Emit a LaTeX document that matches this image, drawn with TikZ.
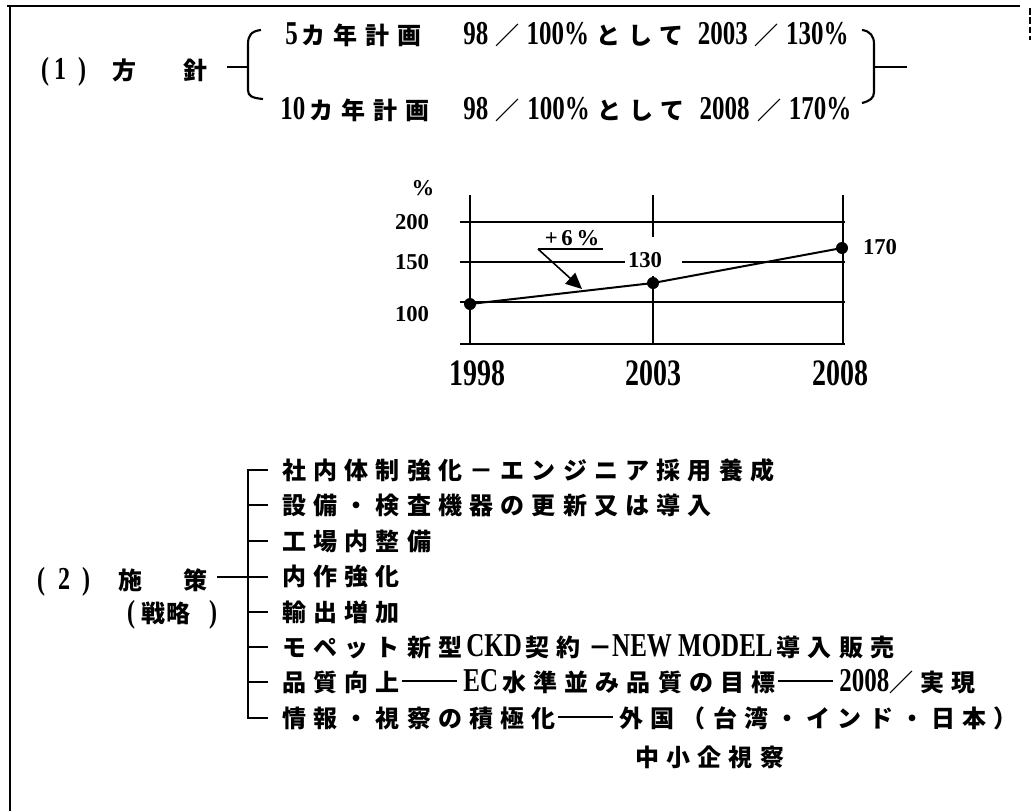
\documentclass[tikz,border=0pt]{standalone}
\usepackage{fontspec}
\usepackage{graphicx}
\setmainfont{Liberation Serif}
\newfontfamily\jp{Noto Sans CJK JP}[LetterSpace=30]
\newfontfamily\jpt{Noto Sans CJK JP}[LetterSpace=33]
\newfontfamily\latc{Liberation Serif}[FakeStretch=0.75]
\usetikzlibrary{arrows.meta}
\newcommand\latA[1]{{\latc\fontsize{25}{26}\selectfont #1}}
\newcommand\latB[1]{{\latc\fontsize{25}{26}\selectfont #1}}
\newcommand\jdash{\hspace{0.1em}\rule[0.36em]{2.3em}{0.08em}\hspace{0.25em}}
\tikzset{
  jtxt/.style={inner sep=0pt, anchor=base west, font=\jp\bfseries\fontsize{18}{20}\selectfont},
  jtop/.style={inner sep=0pt, anchor=base west, font=\jpt\bfseries\fontsize{18}{20}\selectfont},
  jch/.style={inner sep=0pt, anchor=base, font=\jp\bfseries\fontsize{18}{20}\selectfont},
  lch/.style={inner sep=0pt, anchor=base, font=\latc\bfseries\fontsize{24}{24}\selectfont},
  chlab/.style={inner sep=0pt, font=\bfseries\fontsize{17}{17}\selectfont},
  yearlab/.style={inner sep=0pt, font=\latc\bfseries\fontsize{28}{28}\selectfont},
  frame/.style={line width=2.2pt},
  brk/.style={line width=1.6pt},
  tree/.style={line width=1.8pt},
  stub/.style={line width=1.5pt},
  gridl/.style={line width=1.2pt},
  axisl/.style={line width=2.2pt},
  dataline/.style={line width=1.5pt},
  dot/.style={circle, fill=black, inner sep=0pt, minimum size=9pt},
}
\begin{document}
\begin{tikzpicture}[x=0.75pt,y=-0.75pt]
\useasboundingbox (0,0) rectangle (1032,811);
\fill[white] (0,0) rectangle (1032,811);
% frame
\draw[frame] (7,6) -- (1020,6);
\draw[frame] (10,6) -- (10,811);
\draw[line width=1.2pt, dash pattern=on 5pt off 2pt] (1030,8) -- (1030,40);

% ---- (1) policy
\node[lch] (p1a) at (45,79) {(};
\node[lch] (p1b) at (60,79) {1};
\node[lch] (p1c) at (82,79) {)};
\node[jch] (p1d) at (124,79) {方};
\node[jch] (p1e) at (195,79) {針};
\coordinate (lbtip) at (248,67);
\coordinate (lbdash) at (227,67);
\draw[brk] (lbdash) -- (lbtip);
\draw[brk] (261,30) .. controls (251,31) and (248,36) .. (248,44) -- (248,90) .. controls (248,96) and (252,98) .. (263,99);
\node[jtop] (plan5a) at (285,44) {\latA{5}\,カ年計画};
\node[jtop] (plan5b) at (463,44) {\hbox to 289pt{\latA{98}\hfil／\hfil\latA{100\%}\hfil として\hfil\hfil\latA{2003}\hfil／\hfil\latA{130\%}}};
\node[jtop] (plan10a) at (280,119) {\latA{10}\,カ年計画};
\node[jtop] (plan10b) at (463,119) {\hbox to 291pt{\latA{98}\hfil／\hfil\latA{100\%}\hfil として\hfil\hfil\latA{2008}\hfil／\hfil\latA{170\%}}};
\coordinate (rbtip) at (874,67);
\coordinate (rbend) at (907,67);
\draw[brk] (862,30) .. controls (870,31) and (874,36) .. (874,44) -- (874,92) .. controls (874,98) and (870,101) .. (862,103);
\draw[brk] (rbtip) -- (rbend);

% ---- chart
\node[chlab] (pct) at (423,188) {\%};
\node[chlab] (y200) at (412,222) {200};
\node[chlab] (y150) at (412,262) {150};
\node[chlab] (y100) at (412,314) {100};
\draw[gridl] (460,222) -- (845,222);
\draw[gridl] (460,262) -- (625,262);
\draw[gridl] (682,262) -- (845,262);
\draw[gridl] (460,302) -- (845,302);
\draw[gridl] (460,344) -- (845,344);
\draw[axisl] (470,195) -- (470,345);
\draw[axisl] (653,195) -- (653,237);
\draw[axisl] (653,276) -- (653,345);
\draw[axisl] (843,195) -- (843,345);
\node[dot] (d1) at (470,304) {};
\node[dot] (d2) at (653,283) {};
\node[dot] (d3) at (842,248) {};
\draw[dataline] (d1.center) -- (d2.center) -- (d3.center);
\node[chlab] (v130) at (645,260) {130};
\node[chlab] (v170) at (880,247) {170};
\node[chlab] (plus) at (572,238) {+\,6\,\%};
\coordinate (ul) at (538,249);
\coordinate (ur) at (603,249);
\coordinate (tip) at (582,289);
\draw[line width=1.2pt] (ur) -- (ul);
\draw[line width=1.2pt, -{Triangle[length=12pt,width=11pt]}] (ul) -- (tip);
\node[yearlab] (x1998) at (477,373) {1998};
\node[yearlab] (x2003) at (653,373) {2003};
\node[yearlab] (x2008) at (840,373) {2008};

% ---- (2) measures
\node[lch] (p2a) at (41,589) {(};
\node[lch] (p2b) at (64,589) {2};
\node[lch] (p2c) at (86,589) {)};
\node[jch] (p2d) at (130,589) {施};
\node[jch] (p2e) at (195,589) {策};
\node[lch] (p3a) at (131,622) {(};
\node[jch] (p3b) at (153,622) {戦};
\node[jch] (p3c) at (178,622) {略};
\node[lch] (p3d) at (213,622) {)};

\coordinate (t1) at (248,470);
\coordinate (t8) at (248,718);
\draw[tree] (268,470) -- (t1) -- (t8) -- (268,718);
\draw[stub] (217,577) -- (268,577);
\foreach \yy in {505,541,612,647,682}{
  \draw[stub] (248,\yy) -- (268,\yy);
}
\node[jtxt] (m1) at (282,479) {社内体制強化－エンジニア採用養成};
\node[jtxt] (m2) at (282,514) {設備・検査機器の更新又は導入};
\node[jtxt] (m3) at (282,550) {工場内整備};
\node[jtxt] (m4) at (282,585) {内作強化};
\node[jtxt] (m5) at (282,621) {輸出増加};
\node[jtxt] (m6) at (282,656) {モペット新型\,\latB{CKD}\,契約－\latB{NEW MODEL}\,導入販売};
\node[jtxt] (m7) at (282,691) {品質向上\jdash\latB{EC}\,水準並み品質の目標\jdash\latB{2008}／実現};
\node[jtxt] (m8) at (282,727) {情報・視察の積極化\jdash 外国（台湾・インド・日本）};
\node[jtxt] (m9) at (635,766) {中小企視察};
\end{tikzpicture}
\end{document}
